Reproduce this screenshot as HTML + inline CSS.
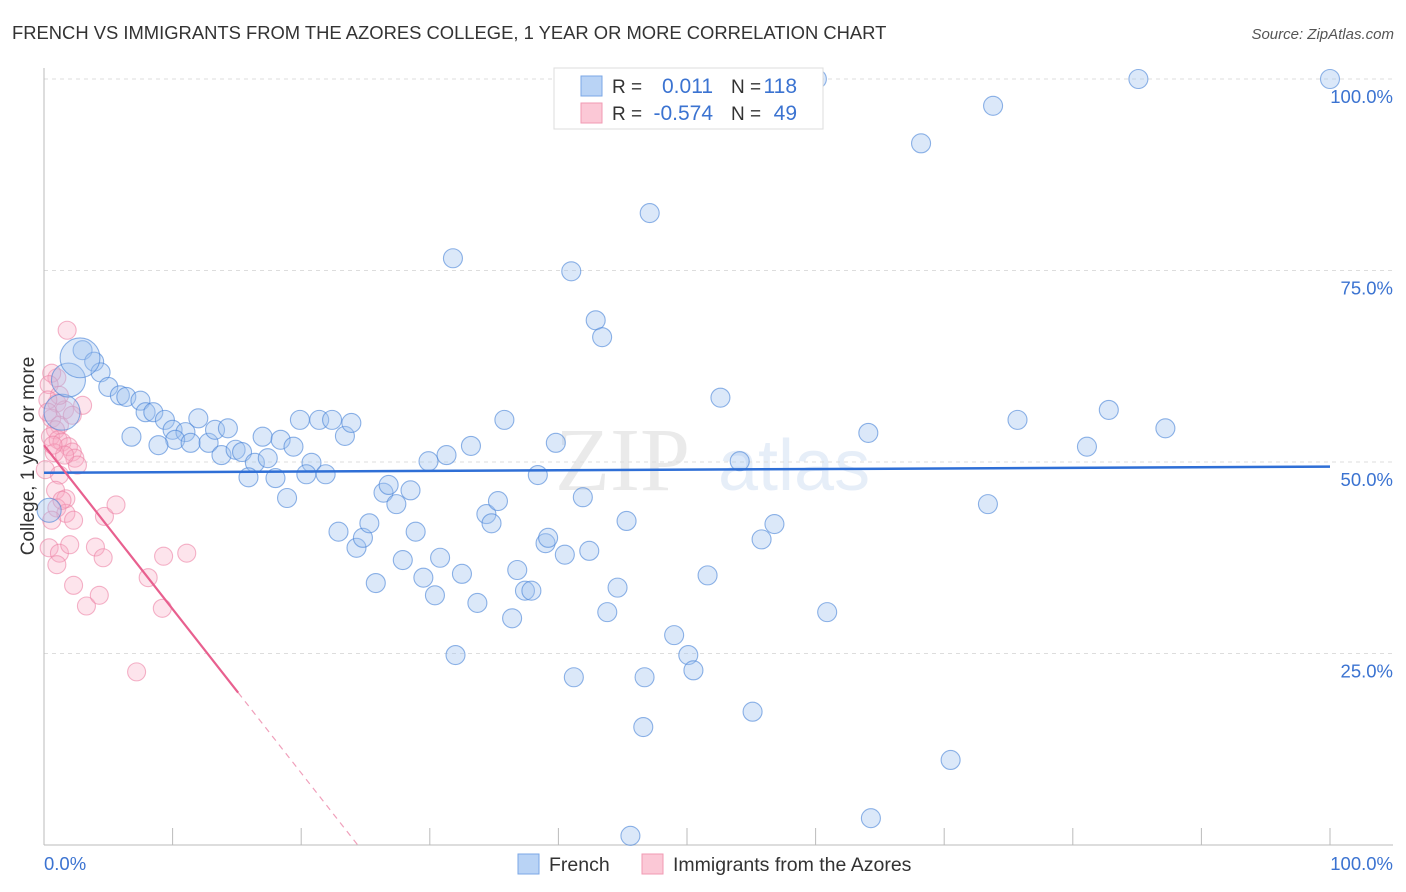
<!DOCTYPE html>
<html><head><meta charset="utf-8">
<style>
body{margin:0;background:#fff;font-family:"Liberation Sans",sans-serif;}
svg{display:block}
</style></head>
<body>
<svg id="chart" width="1406" height="892" xmlns="http://www.w3.org/2000/svg" font-family="Liberation Sans, sans-serif">
<text x="12" y="39" font-size="18.4" fill="#333">FRENCH VS IMMIGRANTS FROM THE AZORES COLLEGE, 1 YEAR OR MORE CORRELATION CHART</text>
<text x="1394" y="39" font-size="15" fill="#555" font-style="italic" text-anchor="end">Source: ZipAtlas.com</text>
<g opacity="0.13">
<text x="555" y="490" font-size="90" font-family="Liberation Serif, serif" fill="#666">ZIP</text>
<text x="718" y="490" font-size="72" fill="#4a7fd0">atlas</text>
</g>
<g id="grid"></g>
<g id="axes"></g>
<g id="pink"></g>
<g id="blue"></g>
<g id="lines"></g>
<text transform="translate(34,456) rotate(-90)" font-size="19" fill="#333" text-anchor="middle">College, 1 year or more</text>
<g>
<rect x="554" y="68" width="269" height="61" fill="#fff" stroke="#ddd"/>
<rect x="581" y="76" width="21" height="20" fill="#b9d3f5" stroke="#7ba7e6"/>
<rect x="581" y="103" width="21" height="20" fill="#fbc8d6" stroke="#f09ab3"/>
<text x="612" y="93" font-size="19" fill="#333">R =</text>
<text x="713" y="93" font-size="21" fill="#3b73d1" text-anchor="end">0.011</text>
<text x="731" y="93" font-size="19" fill="#333">N =</text>
<text x="797" y="93" font-size="21" fill="#3b73d1" text-anchor="end">118</text>
<text x="612" y="120" font-size="19" fill="#333">R =</text>
<text x="713" y="120" font-size="21" fill="#3b73d1" text-anchor="end">-0.574</text>
<text x="731" y="120" font-size="19" fill="#333">N =</text>
<text x="797" y="120" font-size="21" fill="#3b73d1" text-anchor="end">49</text>
</g>
<g>
<rect x="518" y="854" width="21" height="20" fill="#b9d3f5" stroke="#7ba7e6"/>
<text x="549" y="871" font-size="19.5" fill="#333">French</text>
<rect x="642" y="854" width="21" height="20" fill="#fbc8d6" stroke="#f09ab3"/>
<text x="673" y="871" font-size="19.5" fill="#333">Immigrants from the Azores</text>
</g>
</svg>
<script>
const blueX=[60.1,85.1,100,57.5,73.8,68.2,47.1,31.8,41.0,42.9,43.4,3.0,3.9,4.4,5.0,5.9,6.4,7.5,7.9,8.5,9.4,10.0,11.0,10.2,11.4,12.0,12.8,13.3,14.3,13.8,14.9,15.4,16.4,15.9,17.0,17.4,18.0,18.4,18.9,19.4,19.9,20.8,20.4,21.4,21.9,22.4,23.4,23.9,6.8,8.9,22.9,24.3,24.8,25.3,25.8,26.4,26.8,27.4,27.9,28.5,28.9,29.5,29.9,30.4,30.8,31.3,32.0,32.5,33.2,33.7,34.4,34.8,35.3,35.8,36.4,36.8,37.4,37.9,38.4,39.0,39.2,39.8,40.5,41.2,41.9,42.4,43.8,44.6,45.3,45.6,46.6,46.7,49.0,50.1,50.5,51.6,52.6,54.1,55.1,55.8,56.8,60.9,64.1,64.3,70.5,73.4,75.7,81.1,82.8,87.2,0.4,1.4,1.9,2.8];
const blueY=[100,100,100,100,96.5,91.6,82.5,76.6,74.9,68.5,66.3,64.6,63.1,61.7,59.8,58.7,58.5,58.0,56.5,56.5,55.5,54.2,53.9,52.9,52.5,55.7,52.5,54.2,54.4,50.9,51.6,51.3,49.9,48.0,53.3,50.5,47.9,52.9,45.3,52.0,55.5,49.9,48.4,55.5,48.4,55.5,53.4,55.1,53.3,52.2,40.9,38.8,40.1,42.0,34.2,46.0,47.0,44.5,37.2,46.3,40.9,34.9,50.1,32.6,37.5,50.9,24.8,35.4,52.1,31.6,43.2,42.0,44.9,55.5,29.6,35.9,33.2,33.2,48.3,39.4,40.1,52.5,37.9,21.9,45.4,38.4,30.4,33.6,42.3,1.2,15.4,21.9,27.4,24.8,22.8,35.2,58.4,50.1,17.4,39.9,41.9,30.4,53.8,3.5,11.1,44.5,55.5,52.0,56.8,54.4,43.7,56.5,60.7,63.6];
const blueW=[1,1,1,1,1,1,1,1,1,1,1,1,1,1,1,1,1,1,1,1,1,1,1,1,1,1,1,1,1,1,1,1,1,1,1,1,1,1,1,1,1,1,1,1,1,1,1,1,1,1,1,1,1,1,1,1,1,1,1,1,1,1,1,1,1,1,1,1,1,1,1,1,1,1,1,1,1,1,1,1,1,1,1,1,1,1,1,1,1,1,1,1,1,1,1,1,1,1,1,1,1,1,1,1,1,1,1,1,1,1,1.6,3.6,3.2,4.4];
const pinkX=[1.8,1.0,0.6,0.4,1.0,1.6,3.0,0.6,1.2,0.9,0.5,1.1,1.4,1.9,2.2,2.4,2.6,0.8,1.6,1.2,0.9,1.7,1.0,1.7,2.3,4.7,5.6,0.4,1.2,2.0,4.0,4.6,1.0,2.3,3.3,4.3,8.1,9.3,11.1,9.2,7.2,1.2,0.3,0.7,0.1,1.4,0.6,0.3,2.2];
const pinkY=[67.2,61.0,61.6,60.1,57.7,56.8,57.4,55.7,54.8,54.2,53.3,52.9,52.6,52.0,51.3,50.5,49.6,51.2,50.9,48.3,46.3,45.2,44.0,43.3,42.4,42.9,44.4,38.8,38.1,39.2,38.9,37.5,36.6,33.9,31.2,32.6,34.9,37.7,38.1,30.9,22.6,58.7,58.1,52.2,49.0,45.0,42.4,56.5,56.1];
const blueTrend=[48.6,49.4];
const pinkTrend=[52.2,-2.14];
const yTicks=[25,50,75,100];
const yTickLabels=["25.0%","50.0%","75.0%","100.0%"];
const xTicks=[0,10,20,30,40,50,60,70,80,90,100];

const NS="http://www.w3.org/2000/svg";
const X0=44,X1=1330,Y0=845,Y1=79;
const sx=v=>X0+(X1-X0)*v/100;
const sy=v=>Y0-(Y0-Y1)*v/100;
function mk(tag,attrs,parent){const e=document.createElementNS(NS,tag);for(const k in attrs)e.setAttribute(k,attrs[k]);parent.appendChild(e);return e;}
const grid=document.getElementById('grid'),axes=document.getElementById('axes');
yTicks.forEach((t,i)=>{
  const l=mk('line',{x1:X0,x2:1393,y1:sy(t),y2:sy(t),stroke:'#ddd','stroke-dasharray':'4,4'},grid);
  
  
  const tx=mk('text',{x:1393,y:sy(t)+24,'font-size':18.5,fill:'#3b73d1','text-anchor':'end'},axes);
  tx.textContent=yTickLabels[i];
  
  
});
mk('line',{x1:X0,x2:X0,y1:68,y2:Y0,stroke:'#bbb'},axes);
mk('line',{x1:X0,x2:1393,y1:Y0,y2:Y0,stroke:'#bbb'},axes);
xTicks.forEach(t=>{
  const l=mk('line',{x1:sx(t),x2:sx(t),y1:Y0,y2:Y0-17,stroke:'#bbb'},axes);
  
  
});
const xl=mk('text',{x:44,y:870,'font-size':18.5,fill:'#3b73d1'},axes);xl.textContent='0.0%';


const xr=mk('text',{x:1393,y:870,'font-size':18.5,fill:'#3b73d1','text-anchor':'end'},axes);xr.textContent='100.0%';



const pg=document.getElementById('pink');
pinkX.forEach((x,i)=>{
  const c=mk('circle',{cx:sx(x),cy:sy(pinkY[i]),r:9,fill:'rgba(248,170,195,0.32)',stroke:'rgba(236,130,165,0.6)','stroke-width':1.1},pg);
  
  
});
const bg=document.getElementById('blue');
blueX.forEach((x,i)=>{
  const c=mk('circle',{cx:sx(x),cy:sy(blueY[i]),r:9.5*Math.sqrt(blueW[i]),fill:'rgba(160,195,240,0.38)',stroke:'rgba(70,130,215,0.6)','stroke-width':1.1},bg);
  
  
});
const lg=document.getElementById('lines');
const bl=mk('line',{x1:sx(0),y1:sy(blueTrend[0]),x2:sx(100),y2:sy(blueTrend[1]),stroke:'#2f6fd6','stroke-width':2.5},lg);


const pf=v=>pinkTrend[0]+pinkTrend[1]*v;
const xEnd=15.1, xZero=-pinkTrend[0]/pinkTrend[1];
const pl=mk('line',{x1:sx(0),y1:sy(pf(0)),x2:sx(xEnd),y2:sy(pf(xEnd)),stroke:'#e8608f','stroke-width':2.2},lg);


const pd=mk('line',{x1:sx(xEnd),y1:sy(pf(xEnd)),x2:sx(xZero),y2:sy(0),stroke:'#f0a0bb','stroke-width':1.2,'stroke-dasharray':'6,5'},lg);


</script>
</body></html>
